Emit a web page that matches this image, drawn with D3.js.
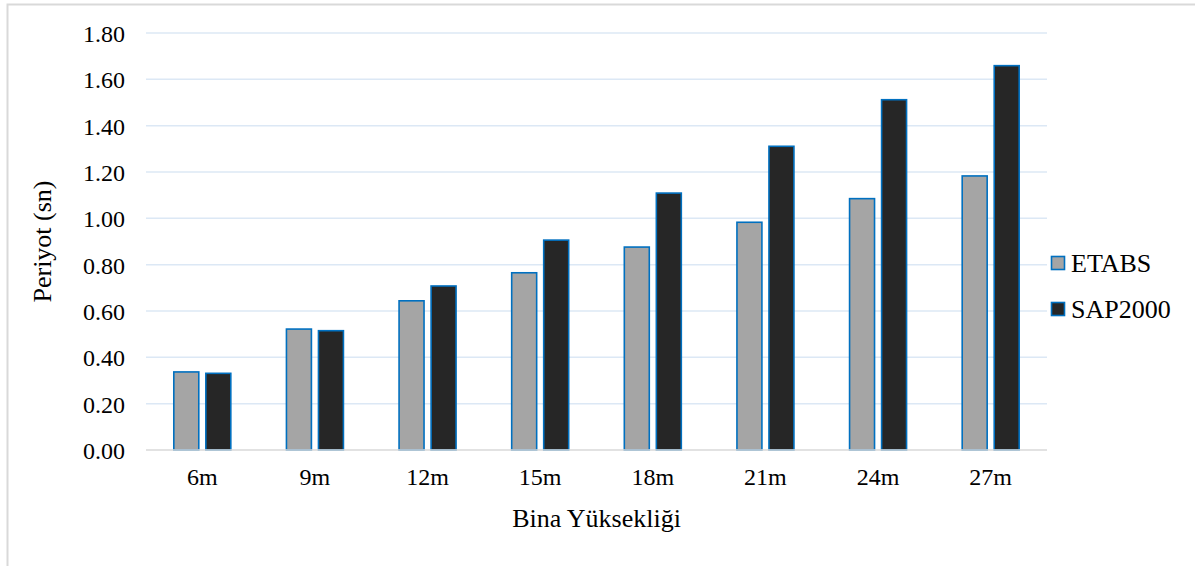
<!DOCTYPE html>
<html>
<head>
<meta charset="utf-8">
<script src="https://cdn.jsdelivr.net/npm/d3@7"></script>
<style>
  html, body { margin: 0; padding: 0; background: #fff; }
  svg { display: block; }
</style>
</head>
<body>
<svg id="chart" width="1195" height="566"></svg>
<script>
// Building heights and fundamental periods from both programs
const categories = ["6m", "9m", "12m", "15m", "18m", "21m", "24m", "27m"];
const seriesNames = ["ETABS", "SAP2000"];
const etabsValues = [0.337, 0.522, 0.644, 0.765, 0.876, 0.983, 1.085, 1.183];
const sapValues = [0.331, 0.515, 0.708, 0.906, 1.109, 1.311, 1.512, 1.659];
const yTicks = [0, 0.2, 0.4, 0.6, 0.8, 1.0, 1.2, 1.4, 1.6, 1.8];

const FONT = '"Liberation Serif", "Times New Roman", Times, "DejaVu Serif", serif';
const colors = { ETABS: "#A5A5A5", SAP2000: "#262626" };
const outline = "#0070C0";

const svg = d3.select("#chart").attr("font-family", FONT);

// outer chart frame
svg.append("rect")
  .attr("x", 7.5).attr("y", 4.5)
  .attr("width", 1200).attr("height", 570)
  .attr("fill", "#fff").attr("stroke", "#D9D9D9").attr("stroke-width", 2);

const plot = { left: 146, right: 1047, top: 33, bottom: 450 };

const x = d3.scaleBand().domain(categories).range([plot.left, plot.right]).paddingInner(0).paddingOuter(0);
const groupW = 57;
const inner = d3.scaleBand().domain(seriesNames).range([0, groupW]).paddingInner(0.22);
const y = d3.scaleLinear().domain([0, 1.8]).range([plot.bottom, plot.top]);

// horizontal gridlines
svg.append("g")
  .selectAll("line")
  .data(yTicks.filter(t => t > 0))
  .join("line")
  .attr("x1", plot.left).attr("x2", plot.right)
  .attr("y1", d => y(d)).attr("y2", d => y(d))
  .attr("stroke", "#DCE8F5").attr("stroke-width", 1.5);

// y axis labels
const yAxis = d3.axisLeft(y).tickValues(yTicks).tickFormat(d3.format(".2f")).tickSize(0).tickPadding(21);
const gy = svg.append("g").attr("transform", `translate(${plot.left},0)`).call(yAxis)
  .attr("font-family", FONT).attr("font-size", 24);
gy.select(".domain").remove();
gy.selectAll("text").attr("fill", "#000").attr("dy", "0.36em");

// bars
const rows = categories.map((c, i) => ({ cat: c, ETABS: etabsValues[i], SAP2000: sapValues[i] }));
const groups = svg.append("g").selectAll("g")
  .data(rows)
  .join("g")
  .attr("transform", d => `translate(${x(d.cat) + (x.bandwidth() - groupW) / 2},0)`);

groups.selectAll("rect")
  .data(d => seriesNames.map(s => ({ s, v: d[s] })))
  .join("rect")
  .attr("x", d => inner(d.s))
  .attr("width", inner.bandwidth())
  .attr("y", d => y(d.v))
  .attr("height", d => y(0) - y(d.v))
  .attr("fill", d => colors[d.s])
  .attr("stroke", outline)
  .attr("stroke-width", 1.6);

// x axis baseline
svg.append("line")
  .attr("x1", plot.left).attr("x2", plot.right)
  .attr("y1", plot.bottom).attr("y2", plot.bottom)
  .attr("stroke", "#D9D9D9").attr("stroke-width", 1.5);

// x axis labels
const xAxis = d3.axisBottom(x).tickSize(0).tickPadding(18);
const gx = svg.append("g").attr("transform", `translate(0,${plot.bottom})`).call(xAxis)
  .attr("font-family", FONT).attr("font-size", 24);
gx.select(".domain").remove();
gx.selectAll("text").attr("fill", "#000");

// axis titles
svg.append("text")
  .attr("x", (plot.left + plot.right) / 2).attr("y", 527)
  .attr("text-anchor", "middle").attr("font-size", 26)
  .text("Bina Yüksekliği");

svg.append("text")
  .attr("transform", `translate(51,${(plot.top + plot.bottom) / 2}) rotate(-90)`)
  .attr("text-anchor", "middle").attr("font-size", 26)
  .text("Periyot (sn)");

// legend
const legend = svg.append("g").selectAll("g")
  .data(seriesNames)
  .join("g")
  .attr("transform", (d, i) => `translate(1051.5,${256.5 + i * 46})`);
legend.append("rect")
  .attr("width", 13).attr("height", 13)
  .attr("fill", d => colors[d]).attr("stroke", outline).attr("stroke-width", 1.6);
legend.append("text")
  .attr("x", 19.5).attr("y", 15)
  .attr("font-size", 26)
  .text(d => d);
</script>
</body>
</html>
